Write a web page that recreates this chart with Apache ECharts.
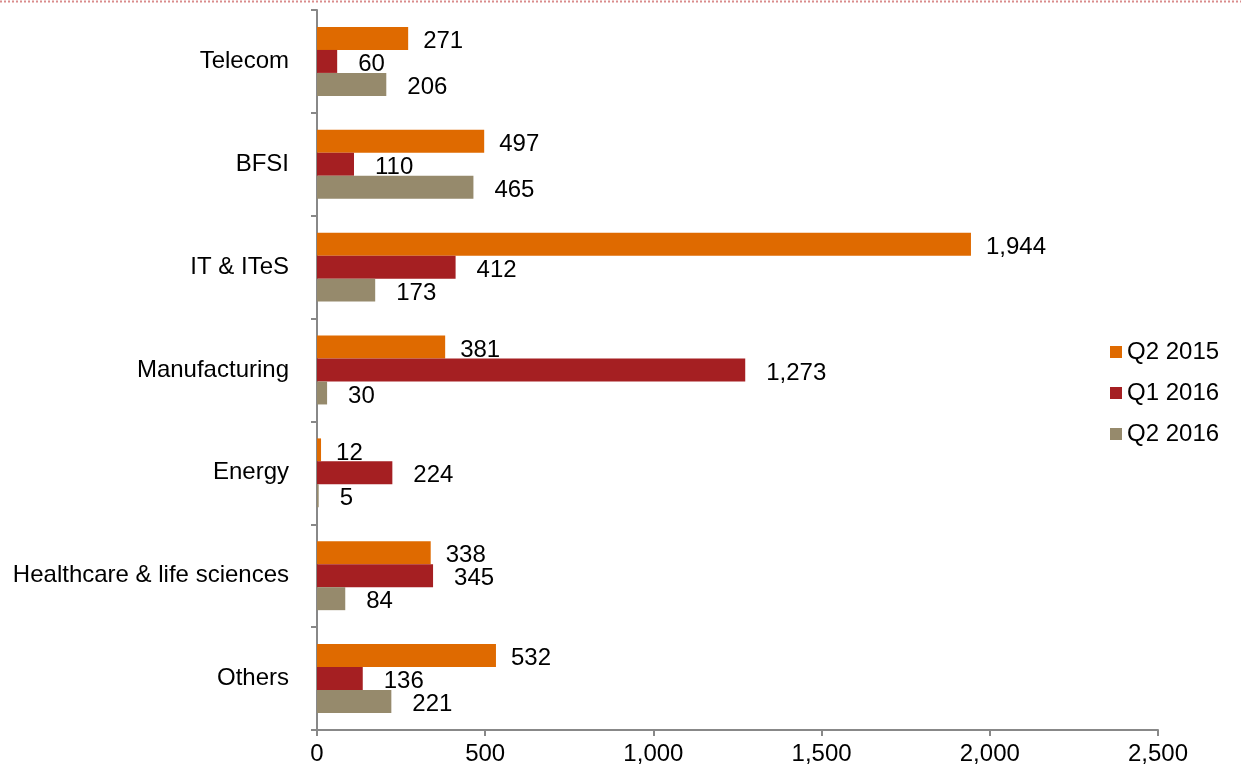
<!DOCTYPE html>
<html>
<head>
<meta charset="utf-8">
<script src="https://cdn.jsdelivr.net/npm/echarts@6/dist/echarts.min.js"></script>
<style>
html,body{margin:0;padding:0;background:#fff;}
#chart{width:1241px;height:771px;}
</style>
</head>
<body>
<div id="chart"></div>
<script>
// Deal counts by industry
const categories = ['Telecom', 'BFSI', 'IT & ITeS', 'Manufacturing', 'Energy', 'Healthcare & life sciences', 'Others'];
const seriesNames = ['Q2 2015', 'Q1 2016', 'Q2 2016'];
const q2_2015 = [271, 497, 1944, 381, 12, 338, 532];
const q1_2016 = [60, 110, 412, 1273, 224, 345, 136];
const q2_2016 = [206, 465, 173, 30, 5, 84, 221];
const xTicks = [0, 500, 1000, 1500, 2000, 2500];

const colors = ['#DF6A00', '#A51F22', '#968A6C'];
const values = [q2_2015, q1_2016, q2_2016];
const labelGaps = [15, 21, 21];
const font = "'Liberation Sans', Arial, sans-serif";
const fs = 24;

const chart = echarts.init(document.getElementById('chart'));
chart.setOption({
  animation: false,
  textStyle: { fontFamily: font },
  grid: { left: 317, right: 83, top: 10, bottom: 41, containLabel: false },
  legend: {
    orient: 'vertical',
    left: 1105,
    top: 335,
    itemWidth: 12,
    itemHeight: 12,
    itemGap: 17,
    icon: 'rect',
    textStyle: { fontSize: fs, color: '#000', fontFamily: font, padding: [0, 0, 0, 0] },
    data: seriesNames
  },
  xAxis: {
    type: 'value',
    min: xTicks[0],
    max: xTicks[xTicks.length - 1],
    interval: 500,
    splitLine: { show: false },
    axisLine: { show: true, lineStyle: { color: '#888', width: 2 } },
    axisTick: { show: true, length: 6, lineStyle: { color: '#888', width: 2 } },
    axisLabel: {
      fontSize: fs, color: '#000', margin: 12, fontFamily: font,
      formatter: v => v.toLocaleString('en-US')
    }
  },
  yAxis: {
    type: 'category',
    data: categories,
    inverse: true,
    axisLine: { show: true, lineStyle: { color: '#888', width: 2 } },
    axisTick: { show: true, length: 6, lineStyle: { color: '#888', width: 2 } },
    axisLabel: { fontSize: fs, color: '#000', margin: 28, fontFamily: font, padding: [3, 0, 0, 0] }
  },
  series: seriesNames.map((name, i) => ({
    name,
    type: 'bar',
    data: values[i],
    barGap: '0%',
    barCategoryGap: '33%',
    itemStyle: { color: colors[i] },
    label: {
      show: true,
      position: 'right',
      distance: labelGaps[i],
      fontSize: fs,
      color: '#000',
      fontFamily: font,
      offset: [0, 3],
      formatter: p => p.value.toLocaleString('en-US')
    }
  })),
  graphic: [{
    type: 'line',
    shape: { x1: 0, y1: 1.5, x2: 1241, y2: 1.5 },
    style: { stroke: '#D98C8C', lineWidth: 2, lineDash: [2, 2] }
  }]
});
</script>
</body>
</html>
